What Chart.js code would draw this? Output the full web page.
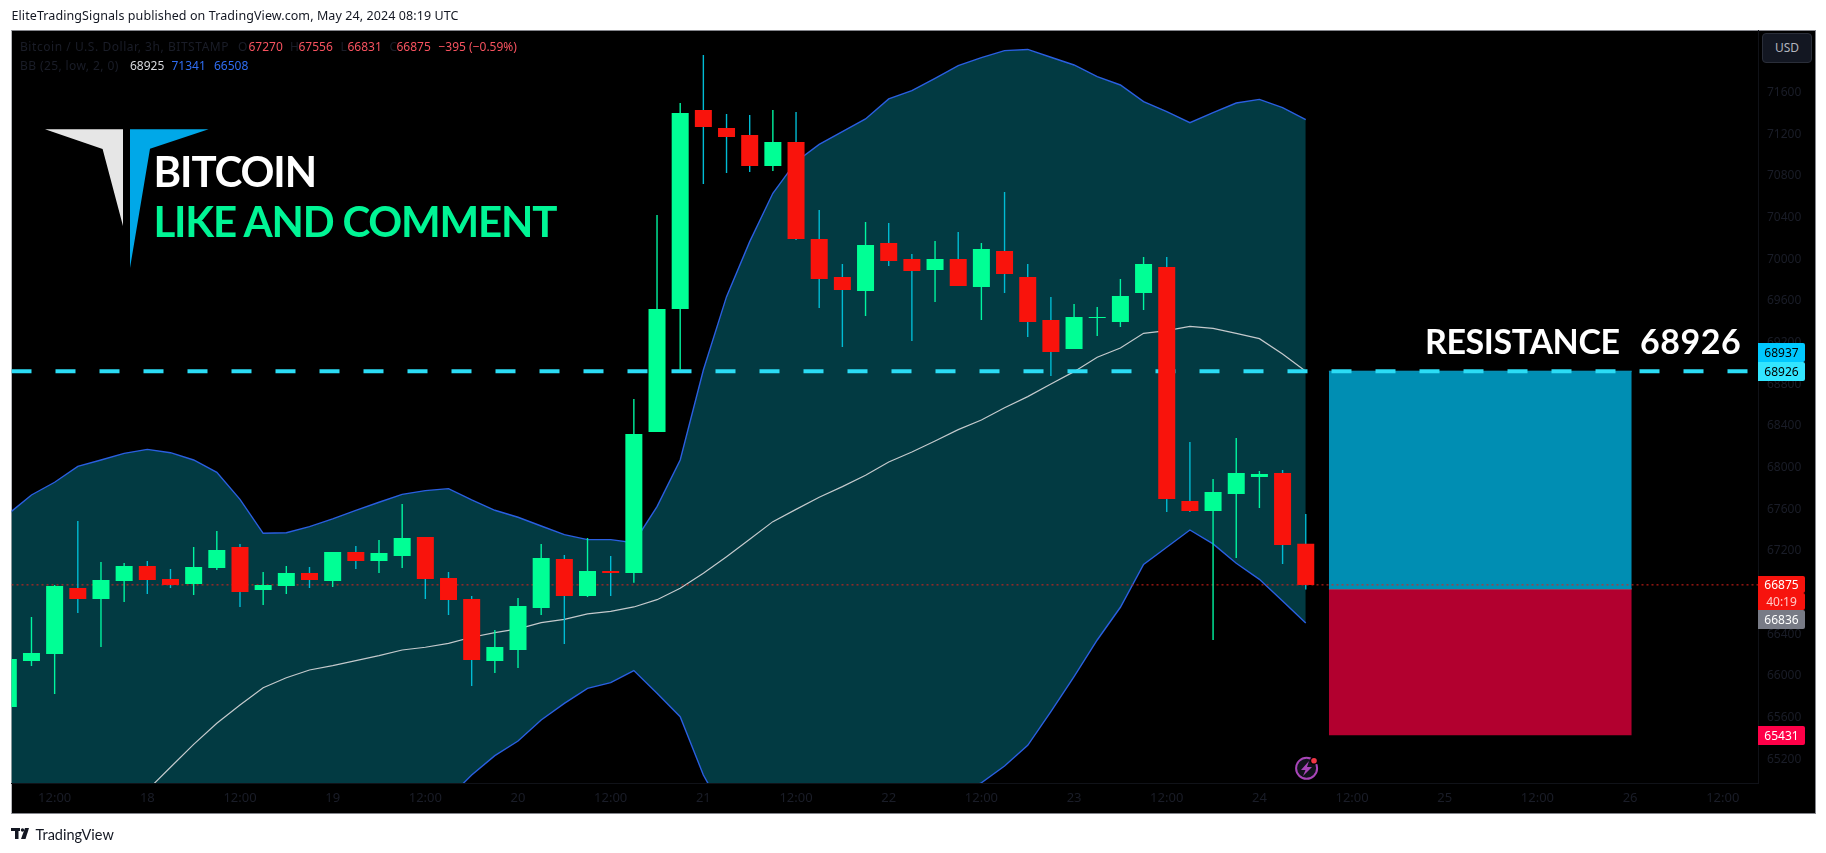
<!DOCTYPE html>
<html>
<head>
<meta charset="utf-8">
<title>Bitcoin / U.S. Dollar, 3h</title>
<script src="https://cdn.jsdelivr.net/npm/chart.js@4"></script>
<style>
    html, body { margin: 0; padding: 0; background: #fff; width: 1826px; height: 853px; overflow: hidden; }
    #frame { position: absolute; left: 11px; top: 30px; width: 1803px; height: 782px; background: #000; border: 1px solid #85868c; border-left-color: #b5b6ba; }
    #chart { position: absolute; left: 0; top: 0; }
    .txt { position: absolute; white-space: nowrap; font-family: "Noto Sans", sans-serif; font-size: 12px; line-height: 16px; }
    .dim { color: #1a1d28; }
    .red { color: #f7525f; }
    .big { font-family: Lato, sans-serif; line-height: 1; }
    .tag { position: absolute; left: 1758px; width: 47px; text-align: center; font-family: "Noto Sans", sans-serif; font-size: 12px; border-radius: 0 2px 2px 0; }
    svg { position: absolute; left: 0; top: 0; }
</style>
</head>
<body>
<div id="frame"></div>
<canvas id="chart" width="1826" height="853"></canvas>
<svg width="1826" height="853">
    <polygon points="45,129.3 123,129.3 123,226 102.6,149" fill="#e6e6e6"/>
    <polygon points="130,129.3 208.6,129.3 150,148.7 130,268" fill="#00a8e8"/>
    <circle cx="1306.6" cy="768.3" r="10.5" fill="#10121a" stroke="#a845b8" stroke-width="2"/>
    <polygon points="1309,761 1301,770 1305.5,770 1303,776 1312,767 1307,767" fill="#a845b8"/>
    <circle cx="1314" cy="760.7" r="4" fill="#000"/>
    <circle cx="1314" cy="760.7" r="2.8" fill="#f23645"/>
    <rect x="11" y="828" width="9" height="3" fill="#131722"/>
    <rect x="15" y="828" width="3.5" height="11" fill="#131722"/>
    <circle cx="22.5" cy="830" r="1.7" fill="#131722"/>
    <polygon points="25,828 29,828 25.5,839 21,839" fill="#131722"/>
</svg>
<div id="overlay"></div>

<script>
// candles, 3h bars
const opens = [
    65703, 66144, 66212, 66845, 66740, 66912, 67056, 66932, 66884, 67037,
    67239, 66826, 66864, 66989, 66912, 67191, 67104, 67152, 67335, 66941,
    66740, 66144, 66250, 66653, 67124, 66768, 67008, 66989, 68343, 69524,
    71434, 71261, 71194, 70896, 71127, 70196, 69831, 69696, 70157, 70004,
    69898, 70004, 69735, 70080, 69831, 69418, 69140, 69437, 69399, 69677,
    69927, 67680, 67584, 67748, 67911, 67949, 67270
];
const highs = [
    66210, 66567, 66874, 67488, 67095, 67085, 67104, 67028, 67239, 67392,
    67268, 66999, 67056, 67047, 67191, 67248, 67306, 67652, 67335, 66999,
    66768, 66442, 66749, 67268, 67162, 67325, 67152, 68660, 70426, 71501,
    71962, 71396, 71386, 71434, 71415, 70474, 69956, 70359, 70349, 70052,
    70176, 70263, 70157, 70647, 69956, 69639, 69572, 69543, 69812, 70023,
    70023, 68247, 67892, 68285, 67968, 67978, 67556
];
const lows = [
    65680, 66096, 65828, 66605, 66279, 66711, 66788, 66845, 66778, 67018,
    66663, 66682, 66788, 66845, 66855, 67028, 66989, 67037, 66740, 66586,
    65904, 66029, 66077, 66586, 66308, 66759, 66768, 66896, 68343, 68937,
    70724, 70829, 70839, 70848, 70186, 69533, 69159, 69456, 69936, 69216,
    69591, 69744, 69418, 69677, 69255, 68880, 69140, 69264, 69351, 69514,
    67575, 67575, 66346, 67133, 67613, 67076, 66831
];
const closes = [
    66164, 66221, 66864, 66740, 66922, 67056, 66922, 66874, 67047, 67210,
    66807, 66874, 66989, 66922, 67191, 67104, 67181, 67325, 66932, 66730,
    66154, 66279, 66672, 67133, 66768, 67008, 66989, 68324, 69524, 71405,
    71271, 71175, 70896, 71127, 70196, 69812, 69706, 70138, 69984, 69888,
    70004, 69744, 70100, 69860, 69399, 69111, 69447, 69447, 69648, 69956,
    67700, 67584, 67767, 67949, 67940, 67258, 66875
];

// Bollinger bands, (25, low, 2, 0)
const bbUpper = [
    67556, 67738, 67860, 68013, 68074, 68138, 68176, 68144, 68074, 67956,
    67696, 67370, 67376, 67434, 67508, 67591, 67668, 67744, 67780, 67799,
    67690, 67591, 67524, 67440, 67357, 67309, 67309, 67280, 67626, 68074,
    68938, 69642, 70170, 70634, 70938, 71104, 71226, 71348, 71540, 71620,
    71738, 71860, 71936, 72004, 72015, 71940, 71866, 71754, 71674, 71514,
    71418, 71312, 71408, 71501, 71536, 71456, 71341
];
const bbBasis = [
    63850, 64000, 64160, 64330, 64510, 64700, 64903, 65124, 65344, 65546,
    65722, 65888, 65984, 66058, 66100, 66148, 66196, 66250, 66276, 66314,
    66372, 66416, 66452, 66512, 66544, 66596, 66621, 66663, 66733, 66842,
    66986, 67146, 67312, 67482, 67600, 67716, 67818, 67927, 68055, 68151,
    68256, 68365, 68458, 68576, 68682, 68804, 68922, 69060, 69149, 69290,
    69316, 69357, 69338, 69290, 69239, 69092, 68925
];
const bbLower = [
    60200, 60300, 60460, 60647, 60926, 61262, 61630, 62104, 62614, 63136,
    63748, 64406, 64592, 64682, 64692, 64705, 64724, 64756, 64772, 64829,
    65050, 65236, 65376, 65578, 65738, 65882, 65936, 66052, 65834, 65610,
    65050, 64650, 64454, 64330, 64262, 64328, 64410, 64506, 64570, 64682,
    64774, 64870, 64975, 65136, 65335, 65658, 65994, 66346, 66660, 67072,
    67236, 67402, 67268, 67082, 66928, 66720, 66508
];

// levels and position box
const resistance = 68926;
const lastPrice = 66875;
const boxStart = 57;
const boxEnd = 70.07;
const boxTop = 68926;
const boxMid = 66836;
const boxBottom = 65431;

// axes
const yTickValues = [65200, 65600, 66000, 66400, 66800, 67200, 67600, 68000, 68400, 68800, 69200, 69600, 70000, 70400, 70800, 71200, 71600];
const xTickValues = [2, 6, 10, 14, 18, 22, 26, 30, 34, 38, 42, 46, 50, 54, 58, 62, 66, 70, 74];
const xTickLabels = ['12:00', '18', '12:00', '19', '12:00', '20', '12:00', '21', '12:00', '22', '12:00', '23', '12:00', '24', '12:00', '25', '12:00', '26', '12:00'];

const xMin = 0.138;
const xMax = 75.52;

const GREEN = '#00ff95';
const RED = '#f9130c';
const WICK_UP = '#00f5a0';
const WICK_DOWN = '#00bcd4';

document.addEventListener('DOMContentLoaded', function() {
    drawChart();
    addLabels();
});

function series(values) {
    return values.map((v, i) => ({ x: i, y: v }));
}

function flatLine(x0, x1, y) {
    return [{ x: x0, y: y }, { x: x1, y: y }];
}

function lineSet(data, color, width, order, extra) {
    return Object.assign({
        type: 'line',
        data: data,
        borderColor: color,
        borderWidth: width,
        pointRadius: 0,
        tension: 0,
        fill: false,
        order: order
    }, extra || {});
}

function drawChart() {
    const isUp = opens.map((o, i) => closes[i] >= o);

    const ctx = document.getElementById('chart').getContext('2d');
    new Chart(ctx, {
        type: 'bar',
        data: {
            datasets: [
                lineSet(series(bbUpper), '#2a5fe0', 1.4, 8, { fill: '+1', backgroundColor: '#023a42' }),
                lineSet(series(bbLower), '#2a5fe0', 1.4, 7),
                lineSet(series(bbBasis), '#c4c9cc', 1.2, 6),
                lineSet(flatLine(boxStart, boxEnd, boxTop), '#0c9cc4', 1, 5, { fill: { value: boxMid }, backgroundColor: '#008eb3' }),
                lineSet(flatLine(boxStart, boxEnd, boxMid), '#787b86', 1, 5, { fill: { value: boxBottom }, backgroundColor: '#b2002f' }),
                lineSet(flatLine(xMin, xMax, resistance), '#2bdcf5', 4, 4, { borderDash: [20, 24] }),
                lineSet(flatLine(xMin, xMax, lastPrice), '#e0201a', 1, 3, { borderDash: [2, 3] }),
                {
                    // wicks
                    data: lows.map((l, i) => ({ x: i, y: [l, highs[i]] })),
                    backgroundColor: isUp.map(up => up ? WICK_UP : WICK_DOWN),
                    grouped: false,
                    categoryPercentage: 1,
                    barPercentage: 0.06,
                    inflateAmount: 0,
                    borderSkipped: false,
                    order: 2
                },
                {
                    // bodies
                    data: opens.map((o, i) => ({ x: i, y: [o, closes[i]] })),
                    backgroundColor: isUp.map(up => up ? GREEN : RED),
                    grouped: false,
                    categoryPercentage: 1,
                    barPercentage: 0.734,
                    inflateAmount: 0,
                    borderSkipped: false,
                    order: 1
                }
            ]
        },
        options: {
            responsive: false,
            animation: false,
            layout: { padding: { left: 11.5, top: 30.5, right: 11, bottom: 40 } },
            plugins: { legend: { display: false }, tooltip: { enabled: false } },
            scales: {
                x: {
                    type: 'linear',
                    offset: false,
                    min: xMin,
                    max: xMax,
                    grid: { display: false, drawTicks: false },
                    border: { color: '#101218' },
                    afterFit: scale => { scale.height = 30; },
                    afterBuildTicks: scale => { scale.ticks = xTickValues.map(v => ({ value: v })); },
                    ticks: {
                        autoSkip: false,
                        maxRotation: 0,
                        padding: 7,
                        color: '#1a1d28',
                        font: { family: 'Noto Sans', size: 13 },
                        callback: value => xTickLabels[xTickValues.indexOf(value)]
                    }
                },
                y: {
                    type: 'linear',
                    position: 'right',
                    min: 64973,
                    max: 72197,
                    grid: { display: false, drawTicks: false },
                    border: { color: '#101218' },
                    afterFit: scale => { scale.width = 57; },
                    afterBuildTicks: scale => { scale.ticks = yTickValues.map(v => ({ value: v })); },
                    ticks: {
                        autoSkip: false,
                        padding: 9,
                        color: '#1a1d28',
                        font: { family: 'Noto Sans', size: 12 },
                        callback: value => String(value)
                    }
                }
            }
        }
    });
}

function addLabels() {
    const overlay = document.getElementById('overlay');

    function text(str, left, top, cls, style) {
        const el = document.createElement('div');
        el.className = cls;
        el.textContent = str;
        el.style.left = left + 'px';
        el.style.top = top + 'px';
        Object.assign(el.style, style || {});
        overlay.appendChild(el);
    }

    text('EliteTradingSignals published on TradingView.com, May 24, 2024 08:19 UTC', 11.5, 8, 'txt', { color: '#131722', fontSize: '12.5px', letterSpacing: '0.09px' });

    // legend rows
    text('Bitcoin / U.S. Dollar, 3h, BITSTAMP', 20, 39, 'txt dim', { letterSpacing: '0.55px' });
    text('O', 238, 39, 'txt dim');
    text('67270', 248.5, 39, 'txt red');
    text('H', 290, 39, 'txt dim');
    text('67556', 298.5, 39, 'txt red');
    text('L', 340.5, 39, 'txt dim');
    text('66831', 347.5, 39, 'txt red');
    text('C', 389.5, 39, 'txt dim');
    text('66875', 396.5, 39, 'txt red');
    text('\u2212395 (\u22120.59%)', 438.5, 39, 'txt red');
    text('BB (25, low, 2, 0)', 20, 58, 'txt dim', { letterSpacing: '0.4px' });
    text('68925', 130, 58, 'txt', { color: '#d6d8dc' });
    text('71341', 171.5, 58, 'txt', { color: '#2f6df2' });
    text('66508', 214, 58, 'txt', { color: '#2f6df2' });

    // big annotations
    text('BITCOIN', 153.5, 149, 'txt big', { color: '#fff', fontSize: '42px', fontWeight: 'bold', lineHeight: '44px', letterSpacing: '-1.1px' });
    text('LIKE AND COMMENT', 153.5, 199, 'txt big', { color: '#00f595', fontSize: '42px', fontWeight: 'bold', lineHeight: '44px', letterSpacing: '-1.2px' });
    text('RESISTANCE', 1425, 322, 'txt big', { color: '#fff', fontSize: '34px', fontWeight: 'bold', letterSpacing: '-0.4px', lineHeight: '38px' });
    text('68926', 1640, 322, 'txt big', { color: '#fff', fontSize: '34px', fontWeight: 'bold', letterSpacing: '0.5px', lineHeight: '38px' });

    // price axis tags
    const tags = [
        ['68937', 343, 19, '#00c8ff', '#000'],
        ['68926', 362, 19, '#33e5ff', '#000'],
        ['66875', 576, 17, '#f7130d', '#fff'],
        ['40:19', 593, 17, '#f7130d', '#ffc9c7'],
        ['66836', 610, 19, '#787b86', '#fff'],
        ['65431', 726, 19, '#ff0048', '#fff']
    ];
    tags.forEach(([str, top, h, bg, fg]) => {
        text(str, 1758, top, 'tag', { height: h + 'px', lineHeight: h + 'px', background: bg, color: fg });
    });

    text('USD', 1762, 33, 'tag', {
        width: '48px', height: '28px', lineHeight: '28px', background: '#131722',
        border: '1px solid #2a2e39', borderRadius: '4px', color: '#b2b5be'
    });

    text('TradingView', 35.5, 826, 'txt', { color: '#131722', fontFamily: 'Lato, sans-serif', fontSize: '14.5px', lineHeight: '18px' });
}
</script>
</body>
</html>
